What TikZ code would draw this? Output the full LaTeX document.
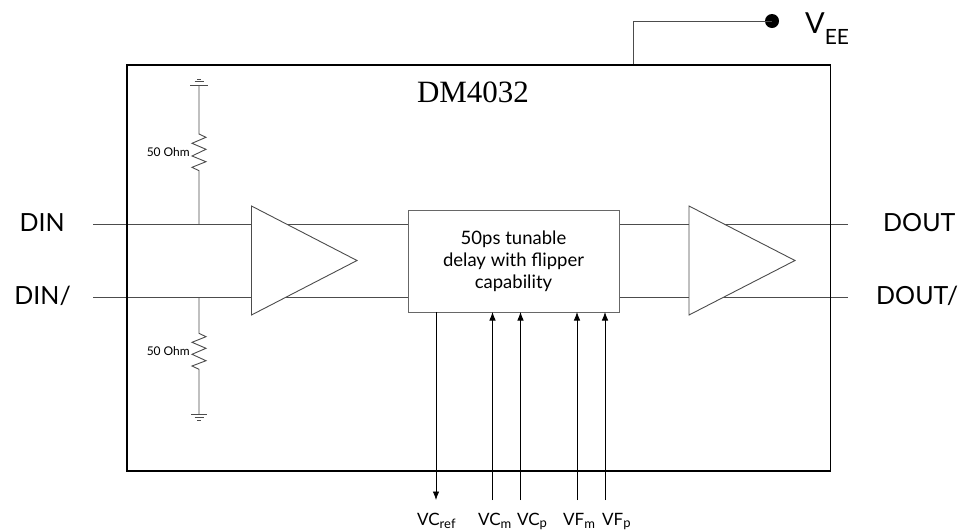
\documentclass[tikz,border=0pt]{standalone}
\usepackage{fontspec}
\setmainfont{Lato}
\newfontfamily\serifface{Liberation Serif}
\usetikzlibrary{arrows.meta}
\definecolor{wire}{gray}{0.3}
\newcommand{\subl}[3]{#1\raisebox{#3}{\fontsize{13}{13}\selectfont #2}}
\tikzset{
  x=1pt,y=-1pt,
  wireline/.style={draw=wire,line width=0.9pt},
  chip/.style={draw=black,line width=1.9pt},
  ampshape/.style={draw=wire,line width=0.9pt,fill=white,line join=miter},
  delaybox/.style={draw=wire!85,line width=1pt,fill=white,inner sep=0pt,align=center,font=\fontsize{18.5}{22}\selectfont},
  iolabel/.style={font=\fontsize{25}{25}\selectfont,inner sep=0pt},
  pinlabel/.style={font=\fontsize{17}{17}\selectfont,inner sep=0pt,anchor=base west},
  reslabel/.style={font=\fontsize{12}{12}\selectfont,inner sep=0pt,anchor=east},
  sigarrow/.style={draw=black,line width=0.8pt,-{Latex[length=8.5pt,width=6.5pt]}},
}
\begin{document}
\begin{tikzpicture}
\useasboundingbox (0,0) rectangle (961,531);
% chip outline
\coordinate (cTL) at (127,65);
\coordinate (cBR) at (830.5,471);
\coordinate (veeT) at (633,65);
\coordinate (veeC) at (633,21);
\node[circle,fill=black,inner sep=0pt,minimum size=14pt] (vee) at (772,21) {};
\draw[wireline] (veeT) -- (veeC) -- (vee.center);
% signal wires
\coordinate (dinS) at (93,224);
\coordinate (dinbS) at (93,297);
\coordinate (doutE) at (848,224);
\coordinate (doutbE) at (848,297);
\draw[wireline] (dinS) -- (doutE);
\draw[wireline] (dinbS) -- (doutbE);
% amplifiers
\coordinate (a1t) at (251.5,206);
\coordinate (a1b) at (251.5,315);
\coordinate (a1p) at (357,260.5);
\coordinate (a2t) at (689,206);
\coordinate (a2b) at (689,315);
\coordinate (a2p) at (795,260.5);
\draw[ampshape] (a1t) -- (a1p) -- (a1b) -- cycle;
\draw[ampshape] (a2t) -- (a2p) -- (a2b) -- cycle;
% delay block
\node[delaybox,minimum width=211pt,minimum height=102pt] (delay) at (513.5,261) {50ps tunable\\delay with flipper\\capability};
% chip on top of wires
\draw[chip] (cTL) rectangle (cBR);
% control pins
\coordinate (refTop) at (436,312);
\coordinate (refEnd) at (436,500);
\coordinate (vcmS) at (492.5,500);
\coordinate (vcmE) at (492.5,312);
\coordinate (vcpS) at (520.5,500);
\coordinate (vcpE) at (520.5,312);
\coordinate (vfmS) at (577,500);
\coordinate (vfmE) at (577,312);
\coordinate (vfpS) at (605,500);
\coordinate (vfpE) at (605,312);
\draw[sigarrow] (refTop) -- (refEnd);
\draw[sigarrow] (vcmS) -- (vcmE);
\draw[sigarrow] (vcpS) -- (vcpE);
\draw[sigarrow] (vfmS) -- (vfmE);
\draw[sigarrow] (vfpS) -- (vfpE);
% upper termination
\coordinate (gu) at (199,85);
\coordinate (upw) at (199,224);
\draw[wireline] (gu) -- (199,134) -- (206,137.3) -- (192,143.3) -- (206,149.3) -- (192,156) -- (206,161.7) -- (192,167.3) -- (199,170.7) -- (upw);
\draw[wireline] (190,85) -- (208,85);
\draw[wireline] (194.5,81.7) -- (203.5,81.7);
\draw[wireline] (197,79) -- (201,79);
% lower termination
\coordinate (lw) at (199,297);
\coordinate (gl) at (199,414);
\draw[wireline] (lw) -- (199,333.3) -- (206,336.7) -- (192,342.3) -- (206,348.3) -- (192,354.3) -- (206,360.7) -- (192,366) -- (199,369.3) -- (gl);
\draw[wireline] (191,414) -- (207,414);
\draw[wireline] (194.5,417.3) -- (203.5,417.3);
\draw[wireline] (197,420) -- (201,420);
% texts
\node[font=\serifface\fontsize{31}{31}\selectfont,inner sep=0pt] (title) at (473,92) {DM4032};
\node[iolabel,anchor=east] (din) at (65,223) {DIN};
\node[iolabel,anchor=east] (dinb) at (71,296) {DIN/};
\node[iolabel,anchor=west] (dout) at (883,223) {DOUT};
\node[iolabel,anchor=west] (doutb) at (876,296) {DOUT/};
\node[inner sep=0pt,anchor=base west,font=\fontsize{29}{29}\selectfont] (veel) at (805,33) {V\raisebox{-11pt}{\fontsize{21}{21}\selectfont EE}};
\node[reslabel] (r1) at (190,152) {50 Ohm};
\node[reslabel] (r2) at (190,351) {50 Ohm};
\node[pinlabel] (lref) at (417,525) {\subl{VC}{ref}{-3pt}};
\node[pinlabel] (lvcm) at (478,525) {\subl{VC}{m}{-3pt}};
\node[pinlabel] (lvcp) at (517,525) {\subl{VC}{p}{-2pt}};
\node[pinlabel] (lvfm) at (563,525) {\subl{VF}{m}{-3pt}};
\node[pinlabel] (lvfp) at (602,525) {\subl{VF}{p}{-2pt}};
\end{tikzpicture}
\end{document}
